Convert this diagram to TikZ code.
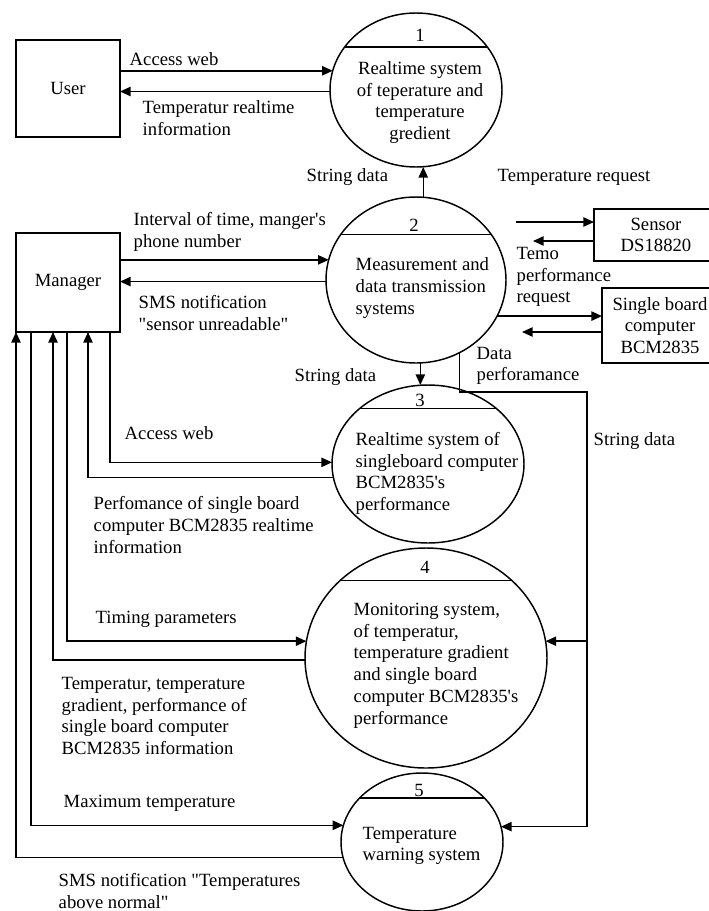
\documentclass[tikz,border=0pt]{standalone}
\usepackage{fontspec}
\setmainfont{Liberation Serif}[Ligatures=TeXOff]
\usetikzlibrary{arrows.meta,shapes.geometric,calc}

\tikzset{
  flow/.style={-{Triangle[length=8pt,width=7pt]}},
  entity/.style={draw, rectangle, inner sep=0pt, outer sep=0pt, align=center},
  proc/.style={draw, ellipse, inner sep=0pt, outer sep=0pt},
  lbl/.style={anchor=west, align=left, inner sep=0pt},
  num/.style={inner sep=0pt}
}

\begin{document}
\begin{tikzpicture}[x=0.75pt, y=-0.75pt, line width=1.1pt, font=\fontsize{14}{16.3}\selectfont]
  \useasboundingbox (0,0) rectangle (709,911);
  \clip (0,0) rectangle (709,911);

  % external entities
  \node[entity, minimum width=78pt, minimum height=72.75pt] (user) at (68,88.5) {User};
  \node[entity, minimum width=78pt, minimum height=74.25pt] (manager) at (68,282.5) {Manager};
  \node[entity, minimum width=93pt, minimum height=39pt] (sensor) at (656,235) {Sensor\\DS18820};
  \node[entity, minimum width=87pt, minimum height=56.25pt] (sbc) at (660,325.5) {Single board\\computer\\BCM2835};

  % processes
  \node[proc, minimum width=129pt, minimum height=115.5pt] (p1) at (416,90) {};
  \node[proc, minimum width=135pt, minimum height=124.5pt] (p2) at (416,280) {};
  \node[proc, minimum width=144pt, minimum height=118.5pt] (p3) at (428,464) {};
  \node[proc, minimum width=181.5pt, minimum height=165pt] (p4) at (426,658) {};
  \node[proc, minimum width=121.5pt, minimum height=103.5pt] (p5) at (422,842) {};
  \draw (p1.149) -- (p1.31);
  \draw (p2.149) -- (p2.31);
  \draw (p3.141) -- (p3.39);
  \draw (p4.138) -- (p4.42);
  \draw (p5.145) -- (p5.35);
  \node[num] (n1) at (420,35) {1};
  \node[num] (n2) at (414,225) {2};
  \node[num] (n3) at (420,400) {3};
  \node[num] (n4) at (425,567) {4};
  \node[num] (n5) at (419,790) {5};
  \node[align=center, inner sep=0pt] (t1) at (420,102.5) {Realtime system\\of teperature and\\temperature\\gredient};
  \node[lbl] (t2) at (355,288) {Measurement and\\data transmission\\systems};
  \node[lbl] (t3) at (355,473.5) {Realtime system of\\singleboard computer\\BCM2835's\\performance};
  \node[lbl] (t4) at (353,665.5) {Monitoring system,\\of temperatur,\\temperature gradient\\and single board\\computer BCM2835's\\performance};
  \node[lbl] (t5) at (362,846) {Temperature\\warning system};

  % flow labels
  \node[lbl] (l1) at (129,59) {Access web};
  \node[lbl] (l2) at (142,118) {Temperatur realtime\\information};
  \node[lbl] (l3) at (306,177) {String data};
  \node[lbl] (l4) at (497,177) {Temperature request};
  \node[lbl] (l5) at (133,232) {Interval of time, manger's\\phone number};
  \node[lbl] (l6) at (138,313) {SMS notification\\"sensor unreadable"};
  \node[lbl] (l7) at (516,277) {Temo\\performance\\request};
  \node[lbl] (l8) at (476,366) {Data\\perforamance};
  \node[lbl] (l9) at (294,377) {String data};
  \node[lbl] (l10) at (593,441) {String data};
  \node[lbl] (l11) at (124,433) {Access web};
  \node[lbl] (l12) at (93,525) {Perfomance of single board\\computer BCM2835 realtime\\information};
  \node[lbl] (l13) at (95,619) {Timing parameters};
  \node[lbl] (l14) at (61,716) {Temperatur, temperature\\gradient, performance of\\single board computer\\BCM2835 information};
  \node[lbl] (l15) at (63,803) {Maximum temperature};
  \node[lbl] (l16) at (58,891) {SMS notification "Temperatures\\above normal"};

  % flows
  \draw[flow] (user.east |- p1.167) -- (p1.167);
  \draw[flow] (p1.181) -- (p1.181 -| user.east);
  \draw[flow] (p2.85) -- (p2.85 |- p1.south);
  \draw[flow] (manager.east |- p2.167) -- (p2.167);
  \draw[flow] (p2.181) -- (p2.181 -| manager.east);
  \coordinate (sreq) at (516,222);
  \coordinate (sret) at (533,241);
  \coordinate (bret) at (522,332);
  \draw[flow] (sreq) -- (sreq -| sensor.west);
  \draw[flow] (sensor.west |- sret) -- (sret);
  \draw[flow] (p2.336) -- (p2.336 -| sbc.west);
  \draw[flow] (sbc.west |- bret) -- (bret);
  \draw[flow] (p2.273) -- (p2.273 |- p3.north);
  \coordinate (trunk) at (587,392);
  \draw[flow] (p2.301) |- (trunk) |- (p5.11);
  \draw[flow] (trunk |- p4.8) -- (p4.8);
  \draw[flow] ($(manager.south west)+(94,0)$) |- (p3.179);
  \draw[flow] (p3.188) -| ($(manager.south west)+(72,0)$);
  \draw[flow] ($(manager.south west)+(51,0)$) |- (p4.172);
  \draw[flow] (p4.181) -| ($(manager.south west)+(37,0)$);
  \draw[flow] ($(manager.south west)+(15,0)$) |- (p5.168);
  \draw[flow] (p5.191) -| (manager.south west);
\end{tikzpicture}
\end{document}
